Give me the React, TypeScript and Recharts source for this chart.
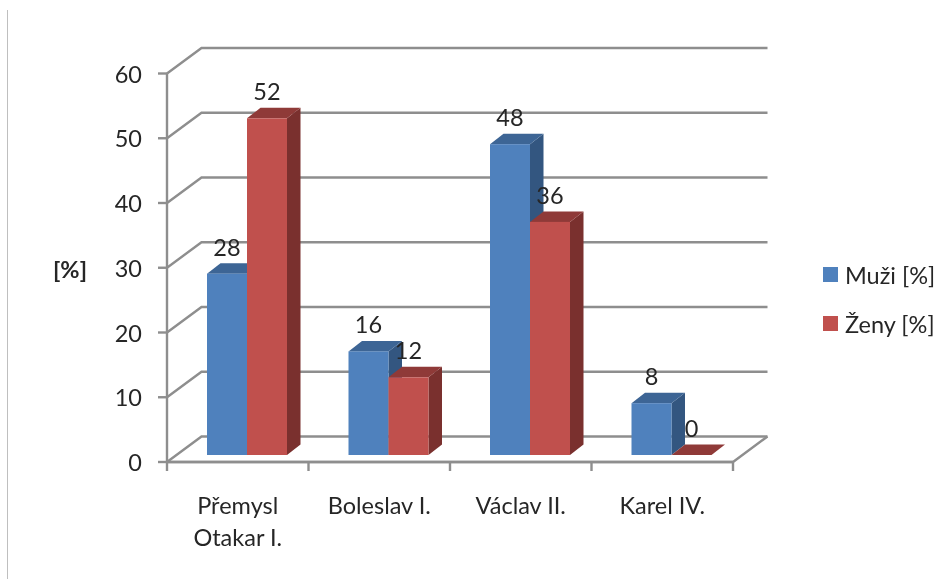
import React from "react";
import { BarChart, Bar, XAxis, YAxis, CartesianGrid, Legend, LabelList, Label } from "recharts";

const categories = ["Přemysl\nOtakar I.", "Boleslav I.", "Václav II.", "Karel IV."];
const muzi = [28, 16, 48, 8];
const zeny = [52, 12, 36, 0];
const yTicks = [0, 10, 20, 30, 40, 50, 60];
const data = categories.map((name, i) => ({ name, muzi: muzi[i], zeny: zeny[i] }));

const FONT = "Lato, 'Open Sans', sans-serif";
const FS = 23.5;
const TEXT = "#262626";
const GRID = "#8e8e8e";
const GRID_W = 2.4;
const W = 939, H = 579;
const X_AXIS_H = 60;
const M = { top: 73.5, right: 206, bottom: 57, left: 107 };
const WALL_DX = 34.5, WALL_DY = 25.5;
const BAR_SHIFT_X = 9.5, BAR_SHIFT_Y = 7, DEPTH_X = 13.5, DEPTH_Y = 10.5;
const STEP = (W - M.left - 60 - M.right) / categories.length;
const BOTTOM = H - M.bottom - X_AXIS_H;

const gridLine = (p: any) => {
  const { x1, x2, y1, key } = p;
  const bx = WALL_DX, by = WALL_DY;
  const floor = Math.abs(y1 - BOTTOM) < 1;
  return (
    <g key={key ?? y1}>
      <polyline fill="none" stroke={GRID} strokeWidth={GRID_W}
        points={`${x1},${y1} ${x1 + bx},${y1 - by} ${x2 + bx},${y1 - by}`} />
      {floor && <polyline fill="none" stroke={GRID} strokeWidth={GRID_W}
        points={`${x1},${y1} ${x2},${y1} ${x2 + bx},${y1 - by}`} />}
    </g>
  );
};

const box = (front: string, top: string, side: string) => (p: any) => {
  const { x, y, width, height } = p;
  const l = x + BAR_SHIFT_X, r = l + width, t = y - BAR_SHIFT_Y, b = t + height;
  return (
    <g>
      {height > 0 && <polygon fill={side} points={`${r},${t} ${r + DEPTH_X},${t - DEPTH_Y} ${r + DEPTH_X},${b - DEPTH_Y} ${r},${b}`} />}
      <polygon fill={top} points={`${l},${t} ${l + DEPTH_X},${t - DEPTH_Y} ${r + DEPTH_X},${t - DEPTH_Y} ${r},${t}`} />
      {height > 0 && <rect x={l} y={t} width={width} height={height} fill={front} />}
    </g>
  );
};

const valueLabel = (p: any) => {
  const { x, y, width, value } = p;
  return (
    <text x={x + width / 2 + BAR_SHIFT_X} y={y - BAR_SHIFT_Y - 27} textAnchor="middle" dominantBaseline="central"
      fontFamily={FONT} fontSize={FS} fill={TEXT}>{value}</text>
  );
};

const CategoryTick = (p: any) => {
  const { x, payload, index } = p;
  const lines = String(payload.value).split("\n");
  const left = x - STEP / 2;
  return (
    <g>
      <line x1={left} x2={left} y1={BOTTOM} y2={BOTTOM + 9} stroke={GRID} strokeWidth={GRID_W} />
      {index === categories.length - 1 && <line x1={left + STEP} x2={left + STEP} y1={BOTTOM} y2={BOTTOM + 9} stroke={GRID} strokeWidth={GRID_W} />}
      {lines.map((l, i) => (
        <text key={i} x={x} y={BOTTOM + 43 + i * 32} textAnchor="middle" dominantBaseline="central"
          fontFamily={FONT} fontSize={FS} fill={TEXT}>{l}</text>
      ))}
    </g>
  );
};

const YTick = (p: any) => {
  const { y, payload } = p;
  return (
    <g>
      <line x1={M.left + 60 - 9} x2={M.left + 60} y1={y} y2={y} stroke={GRID} strokeWidth={GRID_W} />
      <text x={142} y={y} textAnchor="end" dominantBaseline="central" fontFamily={FONT} fontSize={FS} fill={TEXT}>{payload.value}</text>
    </g>
  );
};

const LegendBox = (p: any) => (
  <div style={{ fontFamily: FONT, fontSize: FS, color: TEXT }}>
    {(p.payload || []).map((e: any) => (
      <div key={e.value} style={{ display: "flex", alignItems: "center", height: 49 }}>
        <span style={{ width: 15, height: 15, background: e.color, marginRight: 7, display: "inline-block" }} />
        <span style={{ whiteSpace: "nowrap" }}>{e.value}</span>
      </div>
    ))}
  </div>
);

export default function App() {
  return (
    <div style={{ position: "absolute", left: 0, top: 0, width: W, height: H, background: "#fff", overflow: "hidden" }}>
      <div style={{ position: "absolute", left: 7, top: 10, width: 1, height: H - 10, background: "#bfbfbf" }} />
      <div style={{ position: "absolute", left: 0, top: 0, filter: "blur(0.45px)" }}>
        <BarChart width={W} height={H} data={data} margin={M} barCategoryGap={30.5} barGap={0}>
          <CartesianGrid vertical={false} horizontal={gridLine} />
          <XAxis dataKey="name" height={X_AXIS_H} tick={<CategoryTick />} tickLine={false} interval={0}
            axisLine={{ stroke: GRID, strokeWidth: GRID_W }} />
          <YAxis width={60} domain={[0, 60]} ticks={yTicks} interval={0} tick={<YTick />} tickLine={false}
            axisLine={{ stroke: GRID, strokeWidth: GRID_W }}>
            <Label content={() => (
              <text x={70} y={269} textAnchor="middle" dominantBaseline="central" fontFamily={FONT} fontWeight={700} fontSize={FS} fill={TEXT}>[%]</text>
            )} />
          </YAxis>
          <Legend layout="vertical" align="center" verticalAlign="middle" content={<LegendBox />}
            wrapperStyle={{ left: 823, top: 250, width: 116 }} />
          <Bar dataKey="muzi" name="Muži [%]" fill="#4f81bd" isAnimationActive={false} shape={box("#4f81bd", "#3d6595", "#335680")}>
            <LabelList dataKey="muzi" content={valueLabel} />
          </Bar>
          <Bar dataKey="zeny" name="Ženy [%]" fill="#c0504d" isAnimationActive={false} shape={box("#c0504d", "#8f3a38", "#7a302e")}>
            <LabelList dataKey="zeny" content={valueLabel} />
          </Bar>
        </BarChart>
      </div>
    </div>
  );
}
